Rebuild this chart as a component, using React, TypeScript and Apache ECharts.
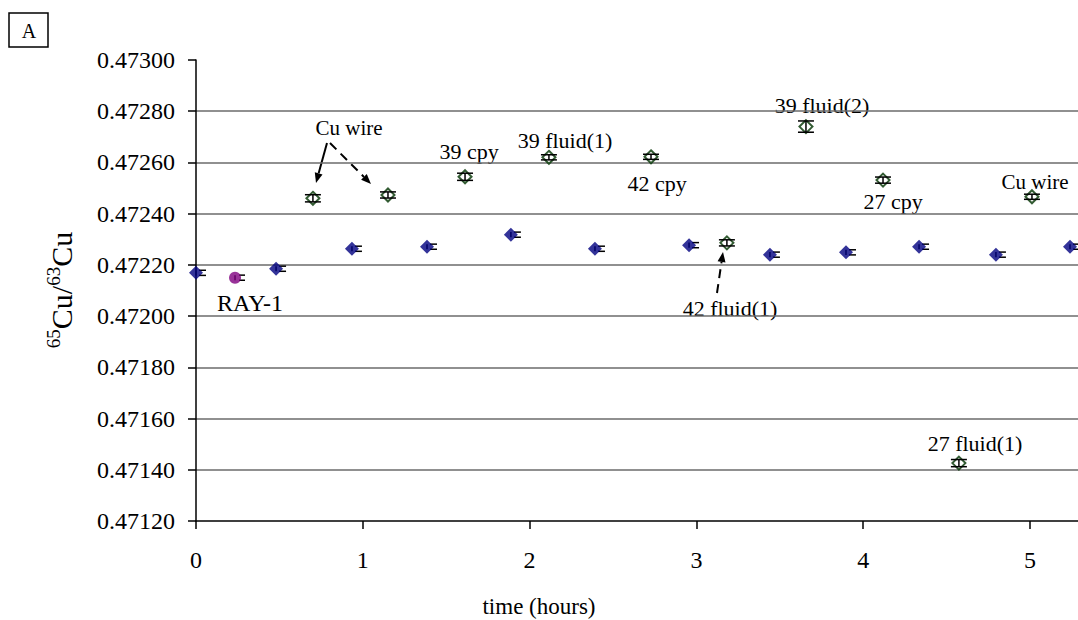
import React, { useEffect, useRef } from "react";
import * as echarts from "echarts";

// Bracketing standard measurements
const standardTimes = [0, 0.48, 0.935, 1.385, 1.888, 2.392, 2.956, 3.441, 3.897, 4.335, 4.796, 5.24];
const standardRatios = [0.472169, 0.472185, 0.472263, 0.472271, 0.472318, 0.472263, 0.472277, 0.47224, 0.472249, 0.472271, 0.47224, 0.472271];
const standardErrors = [0.00001, 0.00001, 0.00001, 0.00001, 0.00001, 0.00001, 0.00001, 0.00001, 0.00001, 0.00001, 0.00001, 0.00001];

// RAY-1 reference solution
const rayTimes = [0.234];
const rayRatios = [0.47215];
const rayErrors = [0.00001];

// Unknowns
const sampleNames = ["Cu wire", "Cu wire", "39 cpy", "39 fluid(1)", "42 cpy", "42 fluid(1)", "39 fluid(2)", "27 cpy", "27 fluid(1)", "Cu wire"];
const sampleTimes = [0.701, 1.151, 1.613, 2.116, 2.728, 3.183, 3.657, 4.119, 4.574, 5.012];
const sampleRatios = [0.47246, 0.472473, 0.472544, 0.47262, 0.472622, 0.472286, 0.47274, 0.472531, 0.471426, 0.472466];
const sampleErrors = [0.000014, 0.000012, 0.000014, 0.00001, 0.00001, 0.000012, 0.000022, 0.000012, 0.000014, 0.00001];

// Axis ranges
const timeMin = 0;
const timeMax = 5.288;
const timeStep = 1;
const ratioMin = 0.4712;
const ratioMax = 0.473;
const ratioStep = 0.0002;

const FONT = "Liberation Serif";

function errorBars(times: number[], ratios: number[], errs: number[], capFrom: number, capTo: number, z: number) {
  return {
    type: "custom",
    silent: true,
    z,
    encode: { x: 0, y: 1 },
    data: times.map((t, i) => [t, ratios[i], errs[i]]),
    renderItem: (_params: any, api: any) => {
      const x = api.value(0);
      const y = api.value(1);
      const e = api.value(2);
      const hi = api.coord([x, y + e]);
      const lo = api.coord([x, y - e]);
      const cx = hi[0];
      const style = { stroke: "#000", lineWidth: 1.5 };
      return {
        type: "group",
        children: [
          { type: "line", shape: { x1: cx, y1: hi[1], x2: cx, y2: lo[1] }, style },
          { type: "line", shape: { x1: cx + capFrom, y1: hi[1], x2: cx + capTo, y2: hi[1] }, style },
          { type: "line", shape: { x1: cx + capFrom, y1: lo[1], x2: cx + capTo, y2: lo[1] }, style },
        ],
      };
    },
  };
}

function arrow(x1: number, y1: number, x2: number, y2: number, dashed: boolean) {
  const ang = Math.atan2(y2 - y1, x2 - x1);
  const len = 10;
  const hw = 4;
  const bx = x2 - len * Math.cos(ang);
  const by = y2 - len * Math.sin(ang);
  const px = -Math.sin(ang) * hw;
  const py = Math.cos(ang) * hw;
  return [
    {
      type: "line",
      shape: { x1, y1, x2: bx, y2: by },
      style: { stroke: "#000", lineWidth: 2, lineDash: dashed ? [9, 6] : null },
    },
    {
      type: "polygon",
      shape: { points: [[x2, y2], [bx + px, by + py], [bx - px, by - py]] },
      style: { fill: "#000" },
    },
  ];
}

function label(text: string, x: number, y: number, size = 22) {
  return {
    type: "text",
    x,
    y,
    style: { text, fill: "#000", fontFamily: FONT, fontSize: size, align: "center", verticalAlign: "middle" },
  };
}

export default function App() {
  const ref = useRef<HTMLDivElement>(null);

  useEffect(() => {
    if (!ref.current) return;
    const chart = echarts.init(ref.current, null, { renderer: "svg" });

    const option: any = {
      animation: false,
      backgroundColor: "#fff",
      textStyle: { fontFamily: FONT },
      grid: { left: 196, right: 0, top: 60, bottom: 99 },
      xAxis: {
        type: "value",
        min: timeMin,
        max: timeMax,
        interval: timeStep,
        axisLine: { lineStyle: { color: "#000", width: 1.5 } },
        axisTick: { show: true, length: 8, inside: false, lineStyle: { color: "#000", width: 1.5 } },
        axisLabel: {
          color: "#000",
          fontFamily: FONT,
          fontSize: 24,
          margin: 27,
          showMaxLabel: false,
          formatter: (v: number) => (Math.abs(v - Math.round(v)) < 1e-9 ? String(Math.round(v)) : ""),
        },
        splitLine: { show: false },
      },
      yAxis: {
        type: "value",
        min: ratioMin,
        max: ratioMax,
        interval: ratioStep,
        axisLine: { show: true, lineStyle: { color: "#000", width: 1.5 } },
        axisTick: { show: true, length: 8, lineStyle: { color: "#000", width: 1.5 } },
        axisLabel: {
          color: "#000",
          fontFamily: FONT,
          fontSize: 24,
          margin: 21,
          formatter: (v: number) => v.toFixed(5),
        },
        splitLine: {
          show: true,
          showMinLine: false,
          showMaxLine: false,
          lineStyle: { color: "#6b6b6b", width: 1.5 },
        },
      },
      series: [
        errorBars(standardTimes, standardRatios, standardErrors, 3, 10, 1),
        errorBars(rayTimes, rayRatios, rayErrors, 4, 10, 1),
        {
          type: "scatter",
          z: 2,
          symbol: "diamond",
          symbolSize: [14, 14],
          itemStyle: { color: "#000080" },
          data: standardTimes.map((t, i) => [t, standardRatios[i]]),
        },
        {
          type: "scatter",
          z: 2,
          symbol: "circle",
          symbolSize: 12,
          itemStyle: { color: "#800080" },
          data: rayTimes.map((t, i) => [t, rayRatios[i]]),
        },
        {
          type: "scatter",
          z: 2,
          name: "samples",
          symbol: "diamond",
          symbolSize: [13, 13],
          itemStyle: { color: "#fff", borderColor: "#003300", borderWidth: 2 },
          data: sampleTimes.map((t, i) => ({ value: [t, sampleRatios[i]], name: sampleNames[i] })),
        },
        errorBars(sampleTimes, sampleRatios, sampleErrors, -8, 8, 3),
      ],
      graphic: [
        {
          type: "rect",
          shape: { x: 9, y: 13, width: 39, height: 34 },
          style: { fill: "none", stroke: "#000", lineWidth: 1.5 },
        },
        label("A", 29, 31, 20),
        {
          type: "text",
          x: 60,
          y: 290,
          rotation: Math.PI / 2,
          style: {
            text: "{sup|65}{main|Cu/}{sup|63}{main|Cu}",
            align: "center",
            verticalAlign: "middle",
            fill: "#000",
            rich: {
              main: { fontFamily: FONT, fontSize: 30, fill: "#000", lineHeight: 32, verticalAlign: "bottom" },
              sup: { fontFamily: FONT, fontSize: 19, fill: "#000", lineHeight: 32, verticalAlign: "top" },
            },
          },
        },
        label("time (hours)", 539, 606, 23),
        label("RAY-1", 250, 303, 24),
        label(sampleNames[0], 349, 128, 21),
        label(sampleNames[2], 469, 151),
        label(sampleNames[3], 565, 140),
        label(sampleNames[4], 657, 183),
        label(sampleNames[5], 730, 308),
        label(sampleNames[6], 822, 105),
        label(sampleNames[7], 893, 201),
        label(sampleNames[8], 975, 443),
        label(sampleNames[9], 1035, 182, 21),
        ...arrow(327, 143, 316, 183, false),
        ...arrow(330, 143, 371, 184, true),
        ...arrow(717, 293, 723, 252, true),
      ],
    };

    chart.setOption(option);
    return () => chart.dispose();
  }, []);

  return (
    <div
      ref={ref}
      style={{ position: "fixed", left: 0, top: 0, width: 1078, height: 620, background: "#fff" }}
    />
  );
}
